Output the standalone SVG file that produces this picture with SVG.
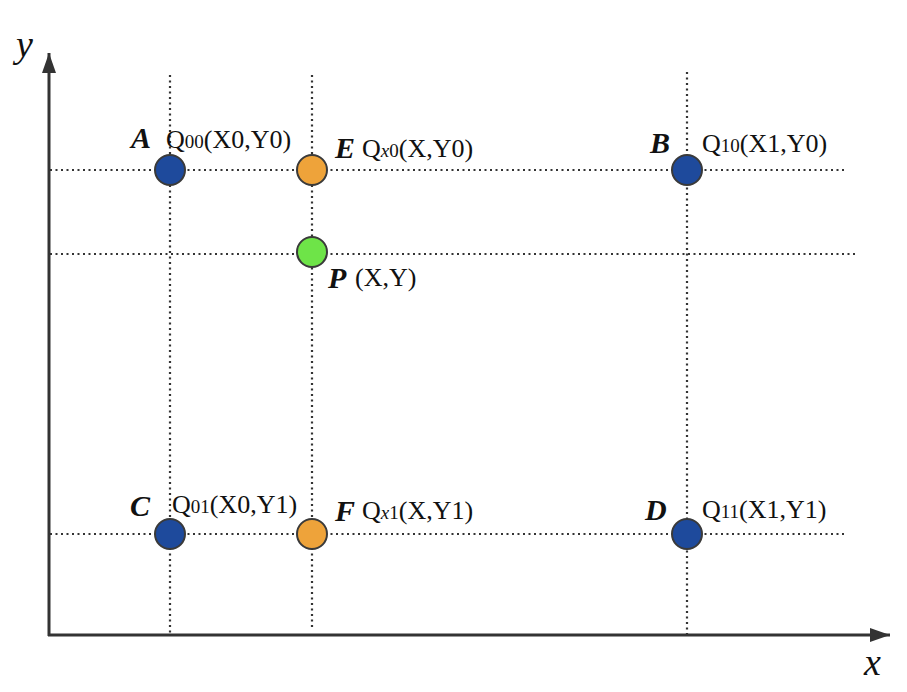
<svg xmlns="http://www.w3.org/2000/svg" width="907" height="692" viewBox="0 0 907 692">
<style>
.grid{stroke:#333;stroke-width:2.2;stroke-dasharray:2 3.5;fill:none}
.axis{stroke:#333;stroke-width:3;fill:none}
.pt{stroke:#3a3a3a;stroke-width:2}
.blue{fill:#1e4a9c}
.orange{fill:#eea33a}
.green{fill:#6ee448}
.lbl{font-family:"Liberation Serif",serif;font-weight:bold;font-style:italic;font-size:30px;fill:#111}
.q{font-family:"Liberation Serif",serif;font-size:26px;fill:#111}
.s{font-size:19px}
.ax{font-family:"Liberation Serif",serif;font-style:italic;font-size:38px;fill:#111}
</style>
<defs>
<marker id="arrh" viewBox="0 0 20 14" refX="20" refY="7" markerWidth="20" markerHeight="14" markerUnits="userSpaceOnUse" orient="auto">
<path d="M0,0 L20,7 L0,14 z" fill="#333"/>
</marker>
</defs>
<rect width="907" height="692" fill="#fff"/>
<g id="connectors">
<line class="grid" x1="170" y1="75" x2="170" y2="635"/>
<line class="grid" x1="312" y1="75" x2="312" y2="630"/>
<line class="grid" x1="687" y1="72" x2="687" y2="635"/>
<line class="grid" x1="50" y1="170" x2="845" y2="170"/>
<line class="grid" x1="50" y1="254" x2="855" y2="254"/>
<line class="grid" x1="50" y1="534" x2="845" y2="534"/>
<line class="axis" x1="49" y1="636" x2="49" y2="53" marker-end="url(#arrh)"/>
<line class="axis" x1="48" y1="635" x2="890" y2="635" marker-end="url(#arrh)"/>
</g>
<g id="axis-y"><text class="ax" x="16" y="57">y</text></g>
<g id="axis-x"><text class="ax" x="864" y="675">x</text></g>
<g id="A">
<circle class="pt blue" cx="170" cy="170" r="15"/>
<text class="lbl" x="131" y="148">A</text>
<text class="q" x="166" y="148">Q<tspan class="s">00</tspan>(X0,Y0)</text>
</g>
<g id="E">
<circle class="pt orange" cx="312" cy="170" r="15"/>
<text class="lbl" x="335" y="158">E</text>
<text class="q" x="362" y="157">Q<tspan class="s" font-style="italic">x</tspan><tspan class="s">0</tspan>(X,Y0)</text>
</g>
<g id="B">
<circle class="pt blue" cx="687" cy="170" r="15"/>
<text class="lbl" x="650" y="153">B</text>
<text class="q" x="702" y="152">Q<tspan class="s">10</tspan>(X1,Y0)</text>
</g>
<g id="P">
<circle class="pt green" cx="312" cy="252" r="15"/>
<text class="lbl" x="328" y="288">P</text>
<text class="q" x="355" y="286">(X,Y)</text>
</g>
<g id="C">
<circle class="pt blue" cx="170" cy="534" r="15"/>
<text class="lbl" x="130" y="516">C</text>
<text class="q" x="172" y="513">Q<tspan class="s">01</tspan>(X0,Y1)</text>
</g>
<g id="F">
<circle class="pt orange" cx="312" cy="534" r="15"/>
<text class="lbl" x="335" y="521">F</text>
<text class="q" x="362" y="519">Q<tspan class="s" font-style="italic">x</tspan><tspan class="s">1</tspan>(X,Y1)</text>
</g>
<g id="D">
<circle class="pt blue" cx="687" cy="534" r="15"/>
<text class="lbl" x="645" y="520">D</text>
<text class="q" x="702" y="518">Q<tspan class="s">11</tspan>(X1,Y1)</text>
</g>
</svg>
